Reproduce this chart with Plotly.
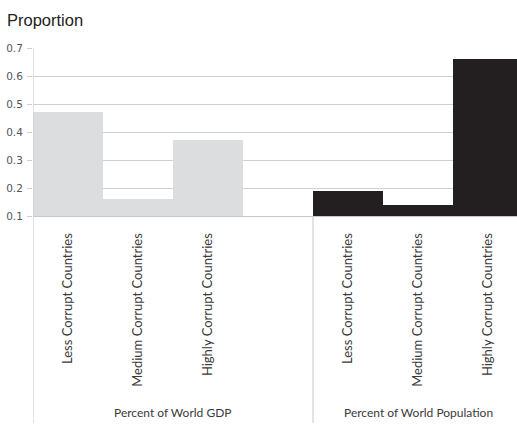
import plotly.graph_objects as go

categories = ["Less Corrupt Countries", "Medium Corrupt Countries", "Highly Corrupt Countries"]
groups = ["Percent of World GDP", "Percent of World Population"]
gdp_values = [0.47, 0.16, 0.37]
pop_values = [0.19, 0.14, 0.66]
y_ticks = [0.1, 0.2, 0.3, 0.4, 0.5, 0.6, 0.7]

gdp_x = [0, 1, 2]
pop_x = [4, 5, 6]
base = 0.1

fig = go.Figure()
fig.add_trace(go.Bar(x=gdp_x, y=[v - base for v in gdp_values], base=base, width=1.0,
                     marker=dict(color="#dcddde", line=dict(width=0)), showlegend=False))
fig.add_trace(go.Bar(x=pop_x, y=[v - base for v in pop_values], base=base, width=1.0,
                     marker=dict(color="#231f20", line=dict(width=0)), showlegend=False))

W, H = 517, 425
ml, mr, mt, mb = 33, 0, 48, 209
ph = H - mt - mb
pw = W - ml - mr
bottom_paper = -(mb - 2) / ph

fig.update_layout(
    width=W, height=H,
    margin=dict(l=ml, r=mr, t=mt, b=mb),
    plot_bgcolor="white", paper_bgcolor="white",
    bargap=0,
    font=dict(family="Lato, Open Sans, sans-serif", color="#4a4a4a"),
    xaxis=dict(range=[-0.5, 6.414], tickvals=gdp_x + pop_x, ticktext=categories + categories,
               tickangle=-90, tickfont=dict(size=13, color="#3a3a3a"), ticks="", showgrid=False,
               showline=True, linecolor="#c8c8c8", linewidth=1, ticklabelstandoff=11,
               zeroline=False, fixedrange=True),
    yaxis=dict(range=[0.1, 0.7], tickvals=y_ticks, ticktext=[f"{v:.1f}" for v in y_ticks],
               tickfont=dict(size=10.5, color="#555555", family="DejaVu Sans, sans-serif"),
               showgrid=True, gridcolor="#cfcfcf",
               gridwidth=1, ticks="outside", ticklen=5, tickcolor="#cfcfcf",
               showline=False, zeroline=False, ticklabelstandoff=2),
)

# hierarchy lines
fig.add_shape(type="line", xref="x", yref="paper", x0=-0.5, x1=-0.5, y0=bottom_paper, y1=1,
              line=dict(color="#c8c8c8", width=1))
fig.add_shape(type="line", xref="x", yref="paper", x0=3.5, x1=3.5, y0=bottom_paper, y1=0,
              line=dict(color="#c8c8c8", width=1))

group_centers = [1.5, 5.0]
for g, cx in zip(groups, group_centers):
    fig.add_annotation(text=g, x=cx, xref="x", y=-(412 - mt - ph) / ph, yref="paper",
                       showarrow=False, font=dict(size=12, color="#3a3a3a"), yanchor="middle")

fig.add_annotation(text="Proportion", x=(5 - ml) / pw, xref="paper", y=1 + (mt - 20) / ph, yref="paper",
                   xanchor="left", yanchor="middle", showarrow=False,
                   font=dict(size=16.5, color="#222222", family="Liberation Sans, Arial, sans-serif"))

fig.write_html("out.html")
